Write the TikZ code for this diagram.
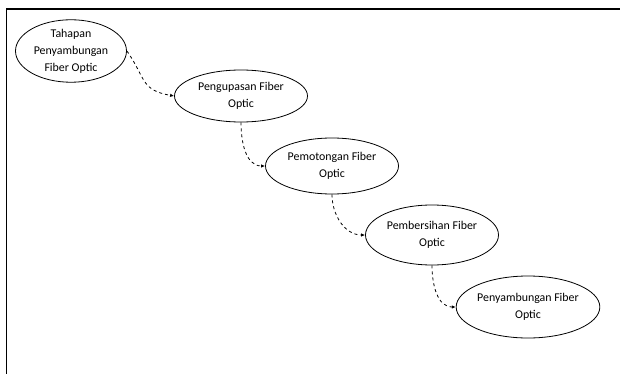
\documentclass[tikz,border=0pt]{standalone}
\usepackage{fontspec}
\setmainfont{Carlito}
\usetikzlibrary{arrows.meta,shapes.geometric}
\tikzset{
  stage/.style={draw, ellipse, thick, minimum width=#1, minimum height=56pt, inner sep=0pt,
    align=center, font=\fontsize{11.9}{17}\selectfont},
  stage/.default=133pt,
  flow/.style={dashed, thick, -{Latex[length=4pt,width=3.5pt]}}
}
\begin{document}
\begin{tikzpicture}[x=1pt,y=-1pt]
          \useasboundingbox (0,0) rectangle (620,374);
          \draw[line width=1.6pt] (6.5,374) -- (6.5,9) -- (620,9);

          \node[stage=111pt, minimum height=58pt] (tahapan) at (71,51) {Tahapan\\Penyambungan\\Fiber Optic};
          \node[stage, minimum height=52pt] (kupas) at (241,96) {Pengupasan Fiber\\Optic};
          \node[stage] (potong) at (332,166) {Pemotongan Fiber\\Optic};
          \node[stage, minimum height=60pt] (bersih) at (432,235) {Pembersihan Fiber\\Optic};
          \node[stage, minimum height=62pt] (sambung) at (528,307) {Penyambungan Fiber\\Optic};

          \draw[flow] (tahapan.east) .. controls (146,78) and (140,90) .. (kupas.west);
          \draw[flow] (kupas.south) to[out=-90, in=180] (potong.west);
          \draw[flow] (potong.south) to[out=-90, in=180] (bersih.west);
          \draw[flow] (bersih.south) to[out=-90, in=180] (sambung.west);
      \end{tikzpicture}
\end{document}
